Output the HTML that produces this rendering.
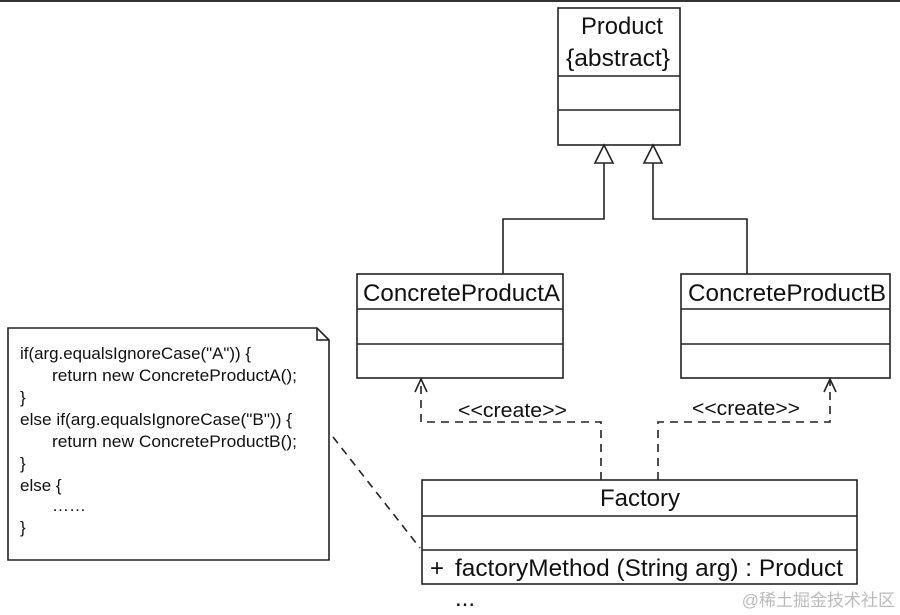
<!DOCTYPE html>
<html><head><meta charset="utf-8"><style>
html,body{margin:0;padding:0;background:#fff;}
svg{display:block;}
text{font-family:"Liberation Sans","Noto Sans CJK SC",sans-serif;fill:#111;}
</style></head><body>
<svg width="900" height="615" viewBox="0 0 900 615" xmlns="http://www.w3.org/2000/svg">
<rect x="0" y="0" width="900" height="2" fill="#333"/>
<g fill="#fff" stroke="#222" stroke-width="1.6">
<rect x="558" y="8" width="122" height="137"/>
<line x1="558" y1="76" x2="680" y2="76"/>
<line x1="558" y1="110" x2="680" y2="110"/>
<rect x="357" y="274" width="206" height="104"/>
<line x1="357" y1="309" x2="563" y2="309"/>
<line x1="357" y1="344" x2="563" y2="344"/>
<rect x="681" y="274" width="209" height="104"/>
<line x1="681" y1="309" x2="890" y2="309"/>
<line x1="681" y1="344" x2="890" y2="344"/>
<rect x="422" y="480" width="435" height="104"/>
<line x1="422" y1="516" x2="857" y2="516"/>
<line x1="422" y1="550" x2="857" y2="550"/>
<path d="M8 328 H317 L329 340 V560 H8 Z"/>
<path d="M317 328 V340 H329" fill="none"/>
</g>
<g fill="none" stroke="#222" stroke-width="1.6">
<path d="M604 163 V219 H503 V274"/>
<path d="M653 163 V219 H747 V274"/>
<path d="M604 145 L595 163 H613 Z" fill="#fff"/>
<path d="M653 145 L644 163 H662 Z" fill="#fff"/>
<path d="M601 480 V422 H421 V380" stroke-dasharray="8,6"/>
<path d="M658 480 V422 H830 V380" stroke-dasharray="8,6"/>
<path d="M415 392 L421 379 L427 392"/>
<path d="M824 392 L830 379 L836 392"/>
<path d="M333 437 L420 548" stroke-dasharray="8,6"/>
</g>
<g font-size="24">
<text x="581" y="34" textLength="82" lengthAdjust="spacingAndGlyphs">Product</text>
<text x="566" y="66" textLength="104" lengthAdjust="spacingAndGlyphs">{abstract}</text>
<text x="363" y="301" textLength="197" lengthAdjust="spacingAndGlyphs">ConcreteProductA</text>
<text x="688" y="301" textLength="198" lengthAdjust="spacingAndGlyphs">ConcreteProductB</text>
<text x="600" y="506" textLength="80" lengthAdjust="spacingAndGlyphs">Factory</text>
<text x="430" y="576">+</text>
<text x="455" y="576" textLength="388" lengthAdjust="spacingAndGlyphs">factoryMethod (String arg)  : Product</text>
<text x="455" y="606">...</text>
</g>
<g font-size="20">
<text x="458" y="417" textLength="109" lengthAdjust="spacingAndGlyphs">&lt;&lt;create&gt;&gt;</text>
<text x="692" y="415" textLength="108" lengthAdjust="spacingAndGlyphs">&lt;&lt;create&gt;&gt;</text>
</g>
<g font-size="17">
<text x="20" y="359" textLength="231" lengthAdjust="spacingAndGlyphs">if(arg.equalsIgnoreCase("A")) {</text>
<text x="52" y="381" textLength="245" lengthAdjust="spacingAndGlyphs">return new ConcreteProductA();</text>
<text x="20" y="403">}</text>
<text x="20" y="425" textLength="272" lengthAdjust="spacingAndGlyphs">else if(arg.equalsIgnoreCase("B")) {</text>
<text x="52" y="447" textLength="245" lengthAdjust="spacingAndGlyphs">return new ConcreteProductB();</text>
<text x="20" y="469">}</text>
<text x="20" y="491">else {</text>
<text x="52" y="511">……</text>
<text x="20" y="533">}</text>
</g>
<text x="895" y="606" font-size="17" text-anchor="end" style="fill:#bbb">@稀土掘金技术社区</text>
</svg>
</body></html>
